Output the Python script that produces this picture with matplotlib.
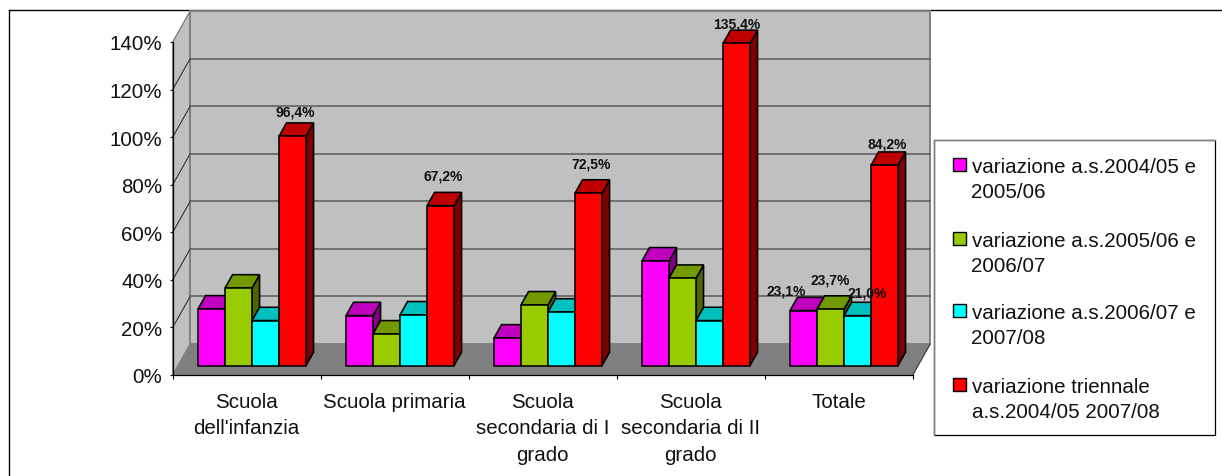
import matplotlib
matplotlib.use('Agg')
import matplotlib.pyplot as plt
from matplotlib.patches import Polygon, Rectangle
from matplotlib.ticker import FuncFormatter

plt.rcParams['font.family'] = ['Liberation Sans', 'DejaVu Sans']

categories = ["Scuola\ndell'infanzia", "Scuola primaria", "Scuola\nsecondaria di I\ngrado",
              "Scuola\nsecondaria di II\ngrado", "Totale"]
var_0405 = [23.8, 21.0, 11.6, 44.0, 23.1]
var_0506 = [32.6, 13.3, 25.5, 36.7, 23.7]
var_0607 = [18.9, 21.3, 22.5, 18.9, 21.0]
var_triennale = [96.4, 67.2, 72.5, 135.4, 84.2]
series = [var_0405, var_0506, var_0607, var_triennale]
series_names = ["variazione a.s.2004/05 e\n2005/06", "variazione a.s.2005/06 e\n2006/07",
                "variazione a.s.2006/07 e\n2007/08", "variazione triennale\na.s.2004/05 2007/08"]
yticks = [0, 20, 40, 60, 80, 100, 120, 140]

# front, top, side colour of each series
colors = [('#FF00FF', '#BF00BF', '#800080'),
          ('#99CC00', '#739900', '#4D6600'),
          ('#00FFFF', '#00BFBF', '#008080'),
          ('#FF0000', '#BF0000', '#800000')]

W, H = 1222, 477
FS = 14.76

# size of the box in data units (one category = 147.7 px, one percent = 2.38 px)
DEPTH_X = 17.5 / 148.0
DEPTH_Y = 31.0 / 2.379
BAR_W = 27.0 / 148.0
GAP = (1 - 4 * BAR_W) / 2
BAR_FRONT = 0.306
BAR_BACK = 0.735

# where each value label was dragged to, in px from the bar top centre: (group, series) -> (dx, dy)
label_offsets = {(0, 3): (3, 25), (1, 3): (3, 30), (2, 3): (3, 30), (3, 3): (0, 20), (4, 3): (3, 22),
                 (4, 0): (-17, 20), (4, 1): (0, 30), (4, 2): (10, 23)}


def pt(x, y, depth):
    """Project a point of the box to the front plane of the axes."""
    return (x + depth * DEPTH_X, y + depth * DEPTH_Y)


def face(ax, points, color, zorder, edge='black', lw=1.15):
    ax.add_patch(Polygon(points, closed=True, facecolor=color, edgecolor=edge, linewidth=lw,
                         joinstyle='miter', zorder=zorder, clip_on=False))


fig = plt.figure(figsize=(W / 100, H / 100), dpi=100)

# chart frame and legend box are laid out in pixels
back = fig.add_axes([0, 0, 1, 1])
back.set_xlim(0, W)
back.set_ylim(H, 0)
back.axis('off')
back.plot([8.5, 8.5], [H, 10.5], color='black', lw=1.0)
back.plot([8.5, W], [10.5, 10.5], color='black', lw=1.0)

ax = fig.add_axes([172.7 / W, (H - 376) / H, 740 / W, 333 / H])
ax.patch.set_visible(False)
ax.set_xlim(0, 5)
ax.set_ylim(0, 140)
n = len(categories)
top = yticks[-1]

# walls and floor
face(ax, [pt(0, 0, 0), pt(0, top, 0), pt(0, top, 1), pt(0, 0, 1)], '#C0C0C0', 1, edge='#808080', lw=0.8)
face(ax, [pt(0, 0, 1), pt(0, top, 1), pt(n, top, 1), pt(n, 0, 1)], '#C0C0C0', 1, edge='#808080', lw=1.4)
face(ax, [pt(0, 0, 0), pt(0, 0, 1), pt(n, 0, 1), pt(n, 0, 0)], '#808080', 1.1, edge='#808080', lw=0.8)
ax.plot(*zip(pt(n, 0, 0), pt(n, 0, 1)), color='#404040', lw=0.8, zorder=1.2, clip_on=False)
for v in yticks[1:]:
    ax.plot(*zip(pt(0, v, 0), pt(0, v, 1)), color='#202020' if v < top else '#808080', lw=0.7,
            zorder=1.3, clip_on=False)
    if v < top:
        ax.plot(*zip(pt(0, v, 1), pt(n, v, 1)), color='#595959', lw=1.1, zorder=1.3, clip_on=False)

# bars
for s, values in enumerate(series):
    front, top_c, side = colors[s]
    z = 3 + s * 0.1
    for g, v in enumerate(values):
        x0 = g + GAP + s * BAR_W
        x1 = x0 + BAR_W
        face(ax, [pt(x1, 0, BAR_FRONT), pt(x1, v, BAR_FRONT), pt(x1, v, BAR_BACK), pt(x1, 0, BAR_BACK)], side, z)
        face(ax, [pt(x0, v, BAR_FRONT), pt(x0, v, BAR_BACK), pt(x1, v, BAR_BACK), pt(x1, v, BAR_FRONT)], top_c, z)
        fx, fy = pt(x0, 0, BAR_FRONT)
        ax.bar(fx, v, BAR_W, bottom=fy, align='edge', color=front, edgecolor='black', linewidth=1.15,
               zorder=z + 0.01, clip_on=False)
        if (g, s) in label_offsets:
            dx, dy = label_offsets[(g, s)]
            ax.annotate(f"{v:.1f}%".replace('.', ','), xy=pt(x0 + BAR_W / 2, v, BAR_FRONT),
                        xytext=(dx * 0.72, dy * 0.72), textcoords='offset points', ha='center', va='center',
                        fontsize=10, fontweight='bold', color='#111111', zorder=6, annotation_clip=False)

# axes
for name in ('top', 'right'):
    ax.spines[name].set_visible(False)
for name in ('left', 'bottom'):
    ax.spines[name].set_linewidth(0.9)
    ax.spines[name].set_zorder(2)
ax.set_yticks(yticks)
ax.yaxis.set_major_formatter(FuncFormatter(lambda v, _: f"{v:.0f}%"))
ax.tick_params(axis='y', length=2.5, width=0.8, pad=5, labelsize=FS, colors='#111111')
ax.set_xticks(range(n + 1))
ax.set_xticklabels([])
ax.tick_params(axis='x', which='major', length=3, width=0.8)
ax.set_xticks([i + 0.5 for i in range(n)], minor=True)
ax.set_xticklabels(categories, minor=True, fontsize=FS, color='#111111', linespacing=1.5)
ax.tick_params(axis='x', which='minor', length=0, pad=12)

# legend
front = fig.add_axes([0, 0, 1, 1])
front.patch.set_visible(False)
front.set_xlim(0, W)
front.set_ylim(H, 0)
front.axis('off')
front.add_patch(Rectangle((933.5, 141), 281, 295, facecolor='white', edgecolor='black', lw=0.9))
front.plot([933.5, 933.5, 1214.5], [436, 141, 141], color='#808080', lw=1.0)
entry_y = [158, 232, 304, 378]
for name, c, y in zip(series_names, colors, entry_y):
    front.add_patch(Rectangle((953, y + 0.5), 13, 13, facecolor=c[0], edgecolor='black', lw=1.0))
    front.text(971.5, y, name, fontsize=FS, color='#111111', va='top', ha='left', linespacing=1.43)

fig.savefig('out.png', dpi=100)
